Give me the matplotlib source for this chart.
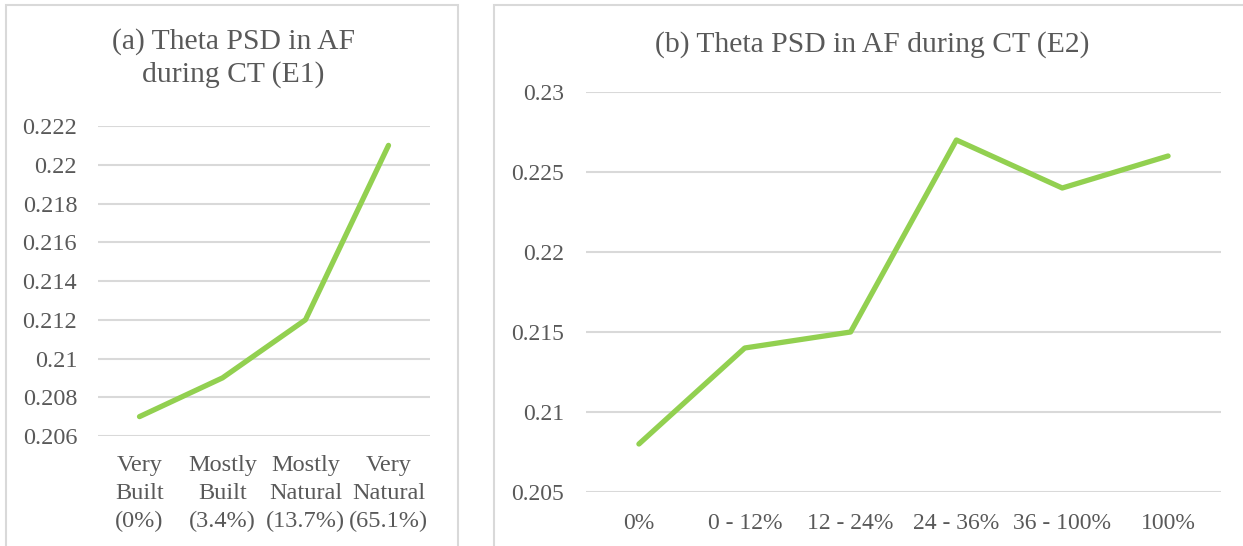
import matplotlib
matplotlib.use("Agg")
from matplotlib import pyplot as plt
from matplotlib.patches import Rectangle

# panel (a)
e1_labels = ["Very\nBuilt\n(0%)", "Mostly\nBuilt\n(3.4%)", "Mostly\nNatural\n(13.7%)", "Very\nNatural\n(65.1%)"]
e1_values = [0.207, 0.209, 0.212, 0.221]
e1_ticks = [0.206, 0.208, 0.21, 0.212, 0.214, 0.216, 0.218, 0.22, 0.222]
e1_ticklabels = ["0.206", "0.208", "0.21", "0.212", "0.214", "0.216", "0.218", "0.22", "0.222"]

# panel (b)
e2_labels = ["0%", "0 - 12%", "12 - 24%", "24 - 36%", "36 - 100%", "100%"]
e2_values = [0.208, 0.214, 0.215, 0.227, 0.224, 0.226]
e2_ticks = [0.205, 0.21, 0.215, 0.22, 0.225, 0.23]
e2_ticklabels = ["0.205", "0.21", "0.215", "0.22", "0.225", "0.23"]

text_color = "#595959"
grid_color = "#D9D9D9"
line_color = "#92D050"

plt.rcParams["font.family"] = ["Liberation Serif", "DejaVu Serif"]

W, H = 1243, 546
fig = plt.figure(figsize=(W / 100, H / 100), dpi=100)

def px_box(x0, x1, ytop, ybot):
    return [x0 / W, 1 - ybot / H, (x1 - x0) / W, (ybot - ytop) / H]

# chart borders (Excel style)
fig.patches.append(Rectangle((6 / W, -0.05), (458 - 6) / W, 1 - 5 / H + 0.05,
                             transform=fig.transFigure, fill=False, edgecolor=grid_color, lw=1.5))
fig.patches.append(Rectangle((494 / W, -0.05), (1250 - 494) / W, 1 - 5 / H + 0.05,
                             transform=fig.transFigure, fill=False, edgecolor=grid_color, lw=1.5))

def draw(ax, labels, values, ticks, ticklabels, ylim, pad, fs):
    x = list(range(len(labels)))
    ax.plot(x, values, color=line_color, lw=3.8, solid_capstyle="round", solid_joinstyle="round", zorder=3)
    ax.set_xlim(-0.5, len(labels) - 0.5)
    ax.set_ylim(*ylim)
    ax.set_yticks(ticks)
    ax.set_yticklabels(ticklabels)
    ax.set_xticks(x)
    ax.set_xticklabels(labels, linespacing=1.42)
    for y in ticks:
        ax.axhline(y, color=grid_color, lw=1.5, zorder=1)
    for s in ax.spines.values():
        s.set_visible(False)
    ax.tick_params(axis="y", length=0, pad=pad, labelsize=fs, labelcolor=text_color)
    ax.tick_params(axis="x", length=0, pad=14, labelsize=fs, labelcolor=text_color)
    ax.patch.set_alpha(0)

ax1 = fig.add_axes(px_box(98, 430, 126, 436))
draw(ax1, e1_labels, e1_values, e1_ticks, e1_ticklabels, (0.206, 0.222), 15, 17.5)

ax2 = fig.add_axes(px_box(586, 1221, 92, 492))
draw(ax2, e2_labels, e2_values, e2_ticks, e2_ticklabels, (0.205, 0.23), 16, 17)
ax2.tick_params(axis="x", pad=15)

fig.text(233 / W, 1 - 58 / H, "(a) Theta PSD in AF\nduring CT (E1)", ha="center", va="center",
         fontsize=21.3, color=text_color, linespacing=1.33)
fig.text(872 / W, 1 - 45 / H, "(b) Theta PSD in AF during CT (E2)", ha="center", va="center",
         fontsize=21.3, color=text_color)

fig.savefig("out.png", dpi=100)
